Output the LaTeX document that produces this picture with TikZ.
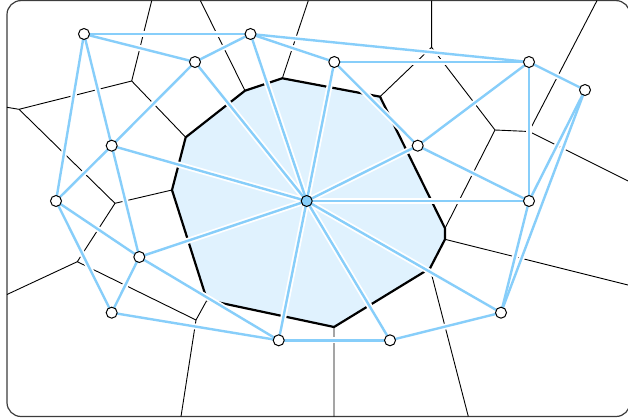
\documentclass[tikz,border=0pt]{standalone}
\usepackage{xcolor}
\definecolor{dblue}{RGB}{135,206,250}
\definecolor{cellfill}{RGB}{224,242,254}
\definecolor{framec}{RGB}{60,60,60}
\begin{document}
\begin{tikzpicture}[x=1pt,y=-1pt,
  vline/.style={black,line width=0.9pt},
  cellline/.style={black,line width=2.2pt,line join=miter},
  halo/.style={white,line width=6pt},
  dedge/.style={dblue,line width=2.4pt},
  site/.style={circle,draw=black,fill=white,line width=1pt,minimum size=11pt,inner sep=0pt},
  csite/.style={site,fill=dblue}]
\useasboundingbox (0,0) rectangle (628,419);
% sites
\coordinate (A) at (84,34);
\coordinate (B) at (250.5,34);
\coordinate (C) at (195,62);
\coordinate (D) at (334.3,62);
\coordinate (E) at (529,62);
\coordinate (F) at (585,90);
\coordinate (G) at (111.7,145.7);
\coordinate (H) at (417.7,145.7);
\coordinate (I) at (56,201);
\coordinate (P) at (306.7,201);
\coordinate (J) at (529,201);
\coordinate (K) at (139.3,257);
\coordinate (L) at (111.7,312.7);
\coordinate (M) at (501,312.7);
\coordinate (N) at (278.7,340.3);
\coordinate (O) at (390,340.3);
% cell vertices
\coordinate (v1) at (185.7,137.3);
\coordinate (v2) at (245,90.7);
\coordinate (v3) at (282.3,78.3);
\coordinate (v4) at (380,96.7);
\coordinate (v5) at (445,228.3);
\coordinate (v6) at (445,239.3);
\coordinate (v7) at (430,268.3);
\coordinate (v8) at (334,327);
\coordinate (v9) at (207,300);
\coordinate (v10) at (172,190);
% other Voronoi vertices and border ends
\coordinate (q1) at (151.7,0.6);
\coordinate (q2) at (131.7,81);
\coordinate (q3) at (19,109.3);
\coordinate (q4) at (7,107.3);
\coordinate (q5) at (115,203.3);
\coordinate (q6) at (200.4,0.6);
\coordinate (q7) at (308.3,0.6);
\coordinate (q8) at (431.6,0.6);
\coordinate (q9) at (431.6,47.3);
\coordinate (q10) at (495,130);
\coordinate (q11) at (529,131.5);
\coordinate (q12) at (597,0.6);
\coordinate (q13) at (630,182);
\coordinate (q14) at (630,285.5);
\coordinate (q15) at (468.3,416.5);
\coordinate (q16) at (334,416.5);
\coordinate (q17) at (196,320);
\coordinate (q18) at (181,416.5);
\coordinate (q19) at (77.3,261.7);
\coordinate (q20) at (7,294.5);
% frame
\draw[framec,line width=1.2pt,rounded corners=14pt] (7,0.6) rectangle (630,416.5);
% cell
\fill[cellfill] (v1)--(v2)--(v3)--(v4)--(v5)--(v6)--(v7)--(v8)--(v9)--(v10)--cycle;
% thin Voronoi edges
\draw[vline] (q1)--(q2) (q2)--(q3) (q3)--(q4) (q3)--(q5) (q2)--(v1)
  (q6)--(v2) (q7)--(v3) (q8)--(q9) (q9)--(v4) (q9)--(q10) (q10)--(q11)
  (q11)--(q12) (q11)--(q13) (q10)--(v5) (v6)--(q14) (v7)--(q15) (v8)--(q16)
  (v9)--(q17) (q17)--(q18) (q17)--(q19) (q19)--(q20) (q19)--(q5) (q5)--(v10);
\draw[cellline] (v1)--(v2)--(v3)--(v4)--(v5)--(v6)--(v7)--(v8)--(v9)--(v10)--cycle;
% Delaunay edges
\def\edgelist{A/B,A/C,A/G,A/I,B/C,B/D,B/E,B/P,C/G,C/P,D/E,D/H,D/P,E/H,E/J,E/F,F/J,F/M,G/I,G/K,G/P,H/J,H/P,I/K,I/L,K/L,K/P,K/N,L/N,N/P,N/O,O/P,O/M,M/P,M/J,P/J}
\foreach \a/\b in \edgelist {\draw[halo] (\a)--(\b);}
\foreach \a/\b in \edgelist {\draw[dedge] (\a)--(\b);}
% site markers
\foreach \s in {A,B,C,D,E,F,G,H,I,J,K,L,M,N,O} {\node[site] (n\s) at (\s) {};}
\node[csite] (nP) at (P) {};
\end{tikzpicture}
\end{document}
